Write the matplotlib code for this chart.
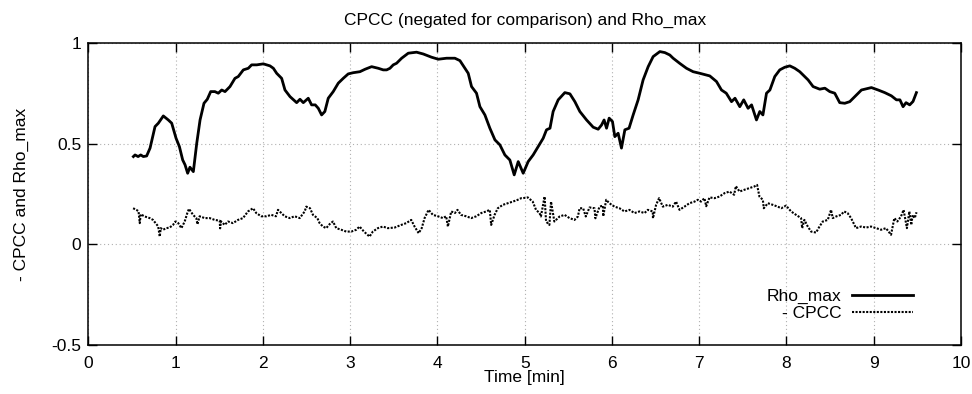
import matplotlib
matplotlib.use("Agg")
import matplotlib.pyplot as plt

plt.rcParams['font.family'] = ['Liberation Sans', 'DejaVu Sans']

# Rho_max over time
rho_t = [0.516, 0.535, 0.57, 0.60, 0.63, 0.668, 0.707, 0.764, 0.802, 0.859, 0.916, 0.955,
         1.005, 1.043, 1.081, 1.108, 1.138, 1.164, 1.203, 1.242, 1.28, 1.325, 1.363, 1.402,
         1.45, 1.489, 1.528, 1.566, 1.623, 1.68, 1.718, 1.776, 1.833, 1.871, 1.93, 2.005,
         2.081, 2.12, 2.158, 2.215, 2.253, 2.311, 2.387, 2.425, 2.463, 2.52, 2.558, 2.60,
         2.635, 2.673, 2.71, 2.749, 2.806, 2.864, 2.921, 2.978, 3.035, 3.112, 3.17, 3.246,
         3.322, 3.379, 3.418, 3.456, 3.494, 3.532, 3.59, 3.666, 3.761, 3.838, 3.933, 4.01,
         4.105, 4.2, 4.258, 4.315, 4.353, 4.391, 4.448, 4.487, 4.544, 4.601, 4.659, 4.716,
         4.773, 4.83, 4.88, 4.926, 4.983, 5.04, 5.097, 5.155, 5.212, 5.25, 5.29, 5.326,
         5.384, 5.46, 5.518, 5.575, 5.632, 5.709, 5.785, 5.842, 5.881, 5.91, 5.938, 5.968,
         6.006, 6.033, 6.071, 6.109, 6.148, 6.196, 6.243, 6.3, 6.357, 6.415, 6.472, 6.549,
         6.606, 6.663, 6.701, 6.778, 6.854, 6.93, 7.007, 7.121, 7.198, 7.255, 7.31, 7.37,
         7.41, 7.465, 7.51, 7.56, 7.6, 7.656, 7.694, 7.73, 7.771, 7.81, 7.866, 7.923,
         7.98, 8.038, 8.095, 8.152, 8.19, 8.248, 8.305, 8.381, 8.44, 8.496, 8.553, 8.61,
         8.668, 8.725, 8.782, 8.859, 8.973, 9.05, 9.126, 9.202, 9.26, 9.30, 9.336, 9.37,
         9.412, 9.45, 9.489]
rho_v = [0.437, 0.445, 0.437, 0.445, 0.437, 0.44, 0.479, 0.586, 0.603, 0.639, 0.619, 0.603,
         0.528, 0.487, 0.420, 0.396, 0.354, 0.384, 0.362, 0.503, 0.619, 0.702, 0.722, 0.760,
         0.76, 0.752, 0.768, 0.76, 0.785, 0.826, 0.835, 0.868, 0.876, 0.893, 0.893, 0.898,
         0.888, 0.876, 0.851, 0.826, 0.768, 0.735, 0.705, 0.722, 0.705, 0.727, 0.694, 0.694,
         0.677, 0.644, 0.661, 0.727, 0.760, 0.802, 0.826, 0.848, 0.854, 0.859, 0.871, 0.884,
         0.876, 0.868, 0.868, 0.876, 0.893, 0.901, 0.926, 0.951, 0.956, 0.947, 0.931, 0.921,
         0.926, 0.926, 0.914, 0.876, 0.851, 0.785, 0.752, 0.685, 0.644, 0.578, 0.520, 0.495,
         0.445, 0.420, 0.346, 0.412, 0.354, 0.412, 0.445, 0.487, 0.528, 0.570, 0.578, 0.661,
         0.719, 0.755, 0.749, 0.710, 0.661, 0.619, 0.583, 0.573, 0.594, 0.619, 0.578, 0.628,
         0.611, 0.536, 0.553, 0.479, 0.570, 0.578, 0.644, 0.719, 0.818, 0.884, 0.934, 0.959,
         0.954, 0.942, 0.926, 0.900, 0.876, 0.859, 0.851, 0.838, 0.810, 0.768, 0.752, 0.710,
         0.727, 0.685, 0.719, 0.677, 0.694, 0.619, 0.661, 0.644, 0.752, 0.768, 0.835, 0.868,
         0.881, 0.888, 0.876, 0.859, 0.843, 0.818, 0.785, 0.772, 0.777, 0.760, 0.752, 0.705,
         0.702, 0.710, 0.735, 0.768, 0.780, 0.768, 0.755, 0.739, 0.719, 0.719, 0.685, 0.705,
         0.694, 0.711, 0.755]

# Negated CPCC over time
cpcc_t = [0.513, 0.55, 0.575, 0.589, 0.60, 0.646, 0.703, 0.741, 0.779, 0.80, 0.818, 0.83,
          0.856, 0.894, 0.932, 0.970, 0.997, 1.03, 1.066, 1.104, 1.134, 1.153, 1.2, 1.237,
          1.25, 1.275, 1.333, 1.39, 1.448, 1.505, 1.51, 1.52, 1.562, 1.6, 1.657, 1.715,
          1.772, 1.829, 1.887, 1.924, 1.981, 2.04, 2.096, 2.15, 2.173, 2.211, 2.25, 2.307,
          2.364, 2.422, 2.479, 2.497, 2.54, 2.574, 2.624, 2.65, 2.688, 2.726, 2.765, 2.803,
          2.841, 2.898, 2.955, 3.013, 3.07, 3.108, 3.158, 3.222, 3.26, 3.318, 3.375, 3.432,
          3.51, 3.585, 3.643, 3.7, 3.738, 3.785, 3.82, 3.853, 3.899, 3.948, 4.006, 4.063,
          4.1, 4.12, 4.158, 4.2, 4.23, 4.27, 4.33, 4.387, 4.445, 4.502, 4.559, 4.6,
          4.616, 4.655, 4.692, 4.75, 4.807, 4.864, 4.921, 4.96, 4.978, 5.035, 5.092, 5.13,
          5.17, 5.186, 5.228, 5.245, 5.283, 5.302, 5.34, 5.4, 5.457, 5.514, 5.571, 5.61,
          5.629, 5.67, 5.70, 5.743, 5.8, 5.81, 5.858, 5.896, 5.90, 5.934, 5.97, 6.029,
          6.086, 6.144, 6.2, 6.258, 6.315, 6.373, 6.411, 6.468, 6.47, 6.506, 6.54, 6.583,
          6.64, 6.697, 6.735, 6.774, 6.831, 6.888, 6.946, 6.984, 7.02, 7.06, 7.08, 7.118,
          7.175, 7.232, 7.29, 7.347, 7.4, 7.42, 7.462, 7.519, 7.576, 7.63, 7.663, 7.69,
          7.729, 7.74, 7.786, 7.843, 7.9, 7.94, 7.995, 8.053, 8.11, 8.167, 8.18, 8.205,
          8.244, 8.282, 8.339, 8.378, 8.416, 8.473, 8.511, 8.53, 8.568, 8.625, 8.66, 8.7,
          8.74, 8.797, 8.855, 8.912, 8.969, 9.026, 9.084, 9.14, 9.198, 9.236, 9.27, 9.312,
          9.342, 9.38, 9.408, 9.43, 9.446, 9.47, 9.49]
cpcc_v = [0.180, 0.172, 0.165, 0.106, 0.150, 0.139, 0.131, 0.122, 0.101, 0.090, 0.039, 0.081,
          0.073, 0.081, 0.084, 0.097, 0.114, 0.106, 0.081, 0.114, 0.156, 0.177, 0.147, 0.131,
          0.100, 0.140, 0.131, 0.131, 0.122, 0.118, 0.080, 0.115, 0.097, 0.114, 0.106, 0.122,
          0.131, 0.164, 0.180, 0.156, 0.140, 0.140, 0.147, 0.140, 0.172, 0.156, 0.140, 0.131,
          0.140, 0.131, 0.164, 0.188, 0.180, 0.147, 0.131, 0.106, 0.089, 0.081, 0.101, 0.114,
          0.081, 0.073, 0.064, 0.064, 0.073, 0.089, 0.064, 0.039, 0.064, 0.081, 0.089, 0.081,
          0.084, 0.097, 0.106, 0.122, 0.089, 0.056, 0.081, 0.131, 0.172, 0.147, 0.140, 0.131,
          0.140, 0.089, 0.164, 0.156, 0.172, 0.147, 0.140, 0.131, 0.140, 0.156, 0.164, 0.172,
          0.097, 0.147, 0.180, 0.197, 0.205, 0.213, 0.222, 0.230, 0.230, 0.234, 0.213, 0.172,
          0.156, 0.139, 0.238, 0.114, 0.097, 0.213, 0.114, 0.139, 0.147, 0.131, 0.122, 0.139,
          0.180, 0.180, 0.139, 0.184, 0.180, 0.130, 0.188, 0.193, 0.140, 0.222, 0.205, 0.188,
          0.180, 0.164, 0.172, 0.156, 0.164, 0.156, 0.172, 0.164, 0.130, 0.197, 0.230, 0.188,
          0.197, 0.188, 0.213, 0.172, 0.188, 0.205, 0.213, 0.222, 0.213, 0.230, 0.190, 0.234,
          0.230, 0.238, 0.255, 0.263, 0.247, 0.290, 0.263, 0.272, 0.280, 0.288, 0.296, 0.238,
          0.222, 0.180, 0.205, 0.197, 0.188, 0.180, 0.193, 0.164, 0.147, 0.131, 0.081, 0.122,
          0.089, 0.064, 0.059, 0.089, 0.114, 0.122, 0.172, 0.131, 0.139, 0.147, 0.164, 0.156,
          0.131, 0.081, 0.089, 0.084, 0.089, 0.081, 0.073, 0.081, 0.048, 0.131, 0.114, 0.139,
          0.172, 0.081, 0.164, 0.097, 0.147, 0.131, 0.160]

x_ticks = [0, 1, 2, 3, 4, 5, 6, 7, 8, 9, 10]
y_ticks = [-0.5, 0, 0.5, 1]
y_tick_labels = ['-0.5', '0', '0.5', '1']

FS = 12.5

fig = plt.figure(figsize=(9.72, 3.94), dpi=100)
ax = fig.add_axes([0.0909, 0.1244, 0.8978, 0.7656])

ax.plot(rho_t, rho_v, color='black', lw=2.0, label='Rho_max', zorder=3)
ax.plot(cpcc_t, cpcc_v, color='black', lw=1.5, linestyle=(0, (1, 0.7)),
        label='- CPCC', zorder=3)

ax.set_xlim(0, 10)
ax.set_ylim(-0.5, 1)
ax.set_xticks(x_ticks)
ax.set_yticks(y_ticks)
ax.set_yticklabels(y_tick_labels)

ax.grid(True, color='#b0b0b0', lw=0.8, linestyle=(0, (1, 2.5)))
ax.tick_params(direction='in', length=6.5, width=1, top=True, right=True,
               labelsize=FS, pad=5, colors='black')
ax.tick_params(axis='x', pad=8)
for s in ax.spines.values():
    s.set_linewidth(1.1)

ax.set_xlabel('Time [min]', fontsize=FS, labelpad=-1)
ax.set_ylabel('- CPCC and Rho_max', fontsize=FS, labelpad=16)
ax.set_title('CPCC (negated for comparison) and Rho_max', fontsize=FS, pad=13)

ax.legend(loc='lower right', bbox_to_anchor=(0.945, 0.080), frameon=False,
          markerfirst=False, handlelength=3.5, handletextpad=0.6,
          labelspacing=0.1, borderpad=0, borderaxespad=0, fontsize=FS)

fig.savefig('out.png', dpi=100)
